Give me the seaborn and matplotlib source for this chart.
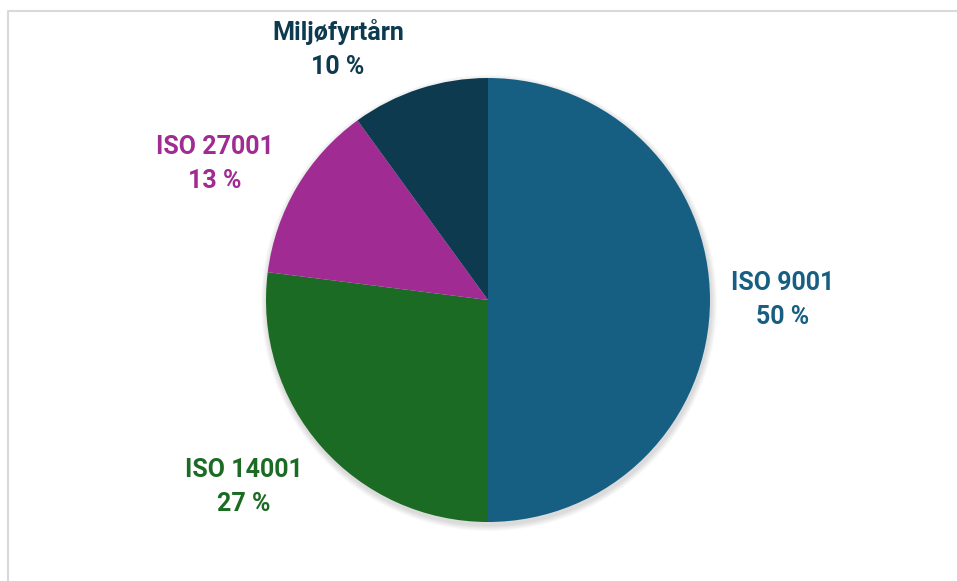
import matplotlib.pyplot as plt
import seaborn as sns
from matplotlib.patches import Circle

# chart data
categories = ["ISO 9001", "ISO 14001", "ISO 27001", "Miljøfyrtårn"]
shares = [50, 27, 13, 10]
colors = ["#175F82", "#1B6B24", "#A02B93", "#0E3A50"]

# label positions in pixel space (x, y from top)
label_pos = [(783, 300), (244, 487), (215, 164), (338, 49)]

sns.set_theme(style="white")
plt.rcParams['font.family'] = ['Roboto', 'DejaVu Sans']

W, H = 957, 581
cx, cy, r = 488, H - 300, 222
fig = plt.figure(figsize=(W / 100, H / 100), dpi=100)
ax = fig.add_axes([0, 0, 1, 1])

# soft shadow under the pie
for i in range(6):
    ax.add_patch(Circle((cx + 1, cy - 3), r + 1 + i, color="black",
                        alpha=0.025, linewidth=0, zorder=0))

ax.pie(shares, colors=colors, startangle=90, counterclock=False,
       center=(cx, cy), radius=r, wedgeprops=dict(linewidth=0, zorder=2))

ax.set_xlim(0, W)
ax.set_ylim(0, H)
ax.set_aspect('equal')
ax.axis('off')

# labels with category name and percentage
for name, share, color, (x, y) in zip(categories, shares, colors, label_pos):
    ax.text(x, H - y, f"{name}\n{share} %", color=color, fontsize=18,
            fontweight='bold', ha='center', va='center', linespacing=1.55)

# light frame on top and left like the source
ax.plot([8, 8, W], [0, H - 11, H - 11], color="#D9D9D9", linewidth=1.5,
        clip_on=False)

fig.savefig("out.png", dpi=100)
